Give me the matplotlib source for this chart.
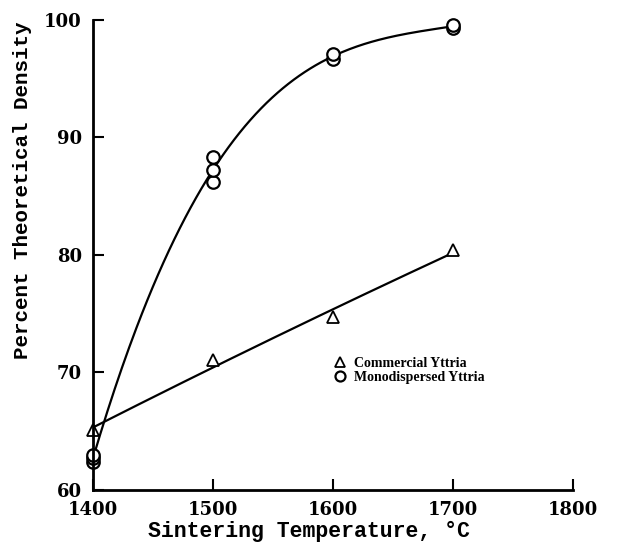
import numpy as np
import matplotlib.pyplot as plt

# sintering temperatures (C) and measured densities (% of theoretical)
temp_mono = [1400, 1400, 1400, 1500, 1500, 1500, 1600, 1600, 1700, 1700]
dens_mono = [62.4, 62.7, 63.0, 86.2, 87.2, 88.3, 96.7, 97.1, 99.3, 99.6]

temp_comm = [1400, 1500, 1600, 1700]
dens_comm = [65.1, 71.1, 74.7, 80.4]

xticks = [1400, 1500, 1600, 1700, 1800]
yticks = [60, 70, 80, 90, 100]

fig = plt.figure(figsize=(6.24, 5.5), dpi=100)
ax = fig.add_axes([0.149, 0.109, 0.769, 0.855])

# smooth fitted curves through the data
t = np.linspace(1400, 1700, 200)
tm = np.array(temp_mono, float)
dm = np.array(dens_mono)
uniq = np.unique(tm)
means = [dm[tm == u].mean() for u in uniq]
pm = np.polyfit((uniq - 1400) / 100, means, 3)
ax.plot(t, np.polyval(pm, (t - 1400) / 100), color='black', lw=1.6)

pc = np.polyfit((np.array(temp_comm) - 1400) / 100, dens_comm, 2)
ax.plot(t, np.polyval(pc, (t - 1400) / 100), color='black', lw=1.6)

ax.plot(temp_comm, dens_comm, ls='none', marker='^', ms=9, mfc='white',
        mec='black', mew=1.3, label='Commercial Yttria', clip_on=False)
ax.plot(temp_mono, dens_mono, ls='none', marker='o', ms=9, mfc='white',
        mec='black', mew=1.6, label='Monodispersed Yttria', clip_on=False)

ax.set_xlim(1400, 1800)
ax.set_ylim(60, 100)
ax.set_xticks(xticks)
ax.set_yticks(yticks)
ax.spines['top'].set_visible(False)
ax.spines['right'].set_visible(False)
for s in ('left', 'bottom'):
    ax.spines[s].set_linewidth(2)
ax.tick_params(direction='in', length=8, width=1.5, pad=8)
for lab in ax.get_xticklabels() + ax.get_yticklabels():
    lab.set_fontfamily('DejaVu Serif')
    lab.set_fontweight('bold')
    lab.set_fontsize(13)

ax.set_xlabel('Sintering Temperature, \u00b0C', family='Liberation Mono',
              weight='bold', fontsize=15.5)
ax.set_ylabel('Percent Theoretical Density', family='Liberation Mono',
              weight='bold', fontsize=15)
ax.xaxis.set_label_coords(0.45, -0.066)
ax.yaxis.set_label_coords(-0.128, 0.638)

leg = ax.legend(loc='upper left', bbox_to_anchor=(0.475, 0.31), frameon=False,
                prop={'family': 'Liberation Serif', 'weight': 'bold', 'size': 10},
                handlelength=1, handletextpad=0.5, labelspacing=0.1,
                markerscale=0.8)

fig.savefig('out.png', dpi=100)
